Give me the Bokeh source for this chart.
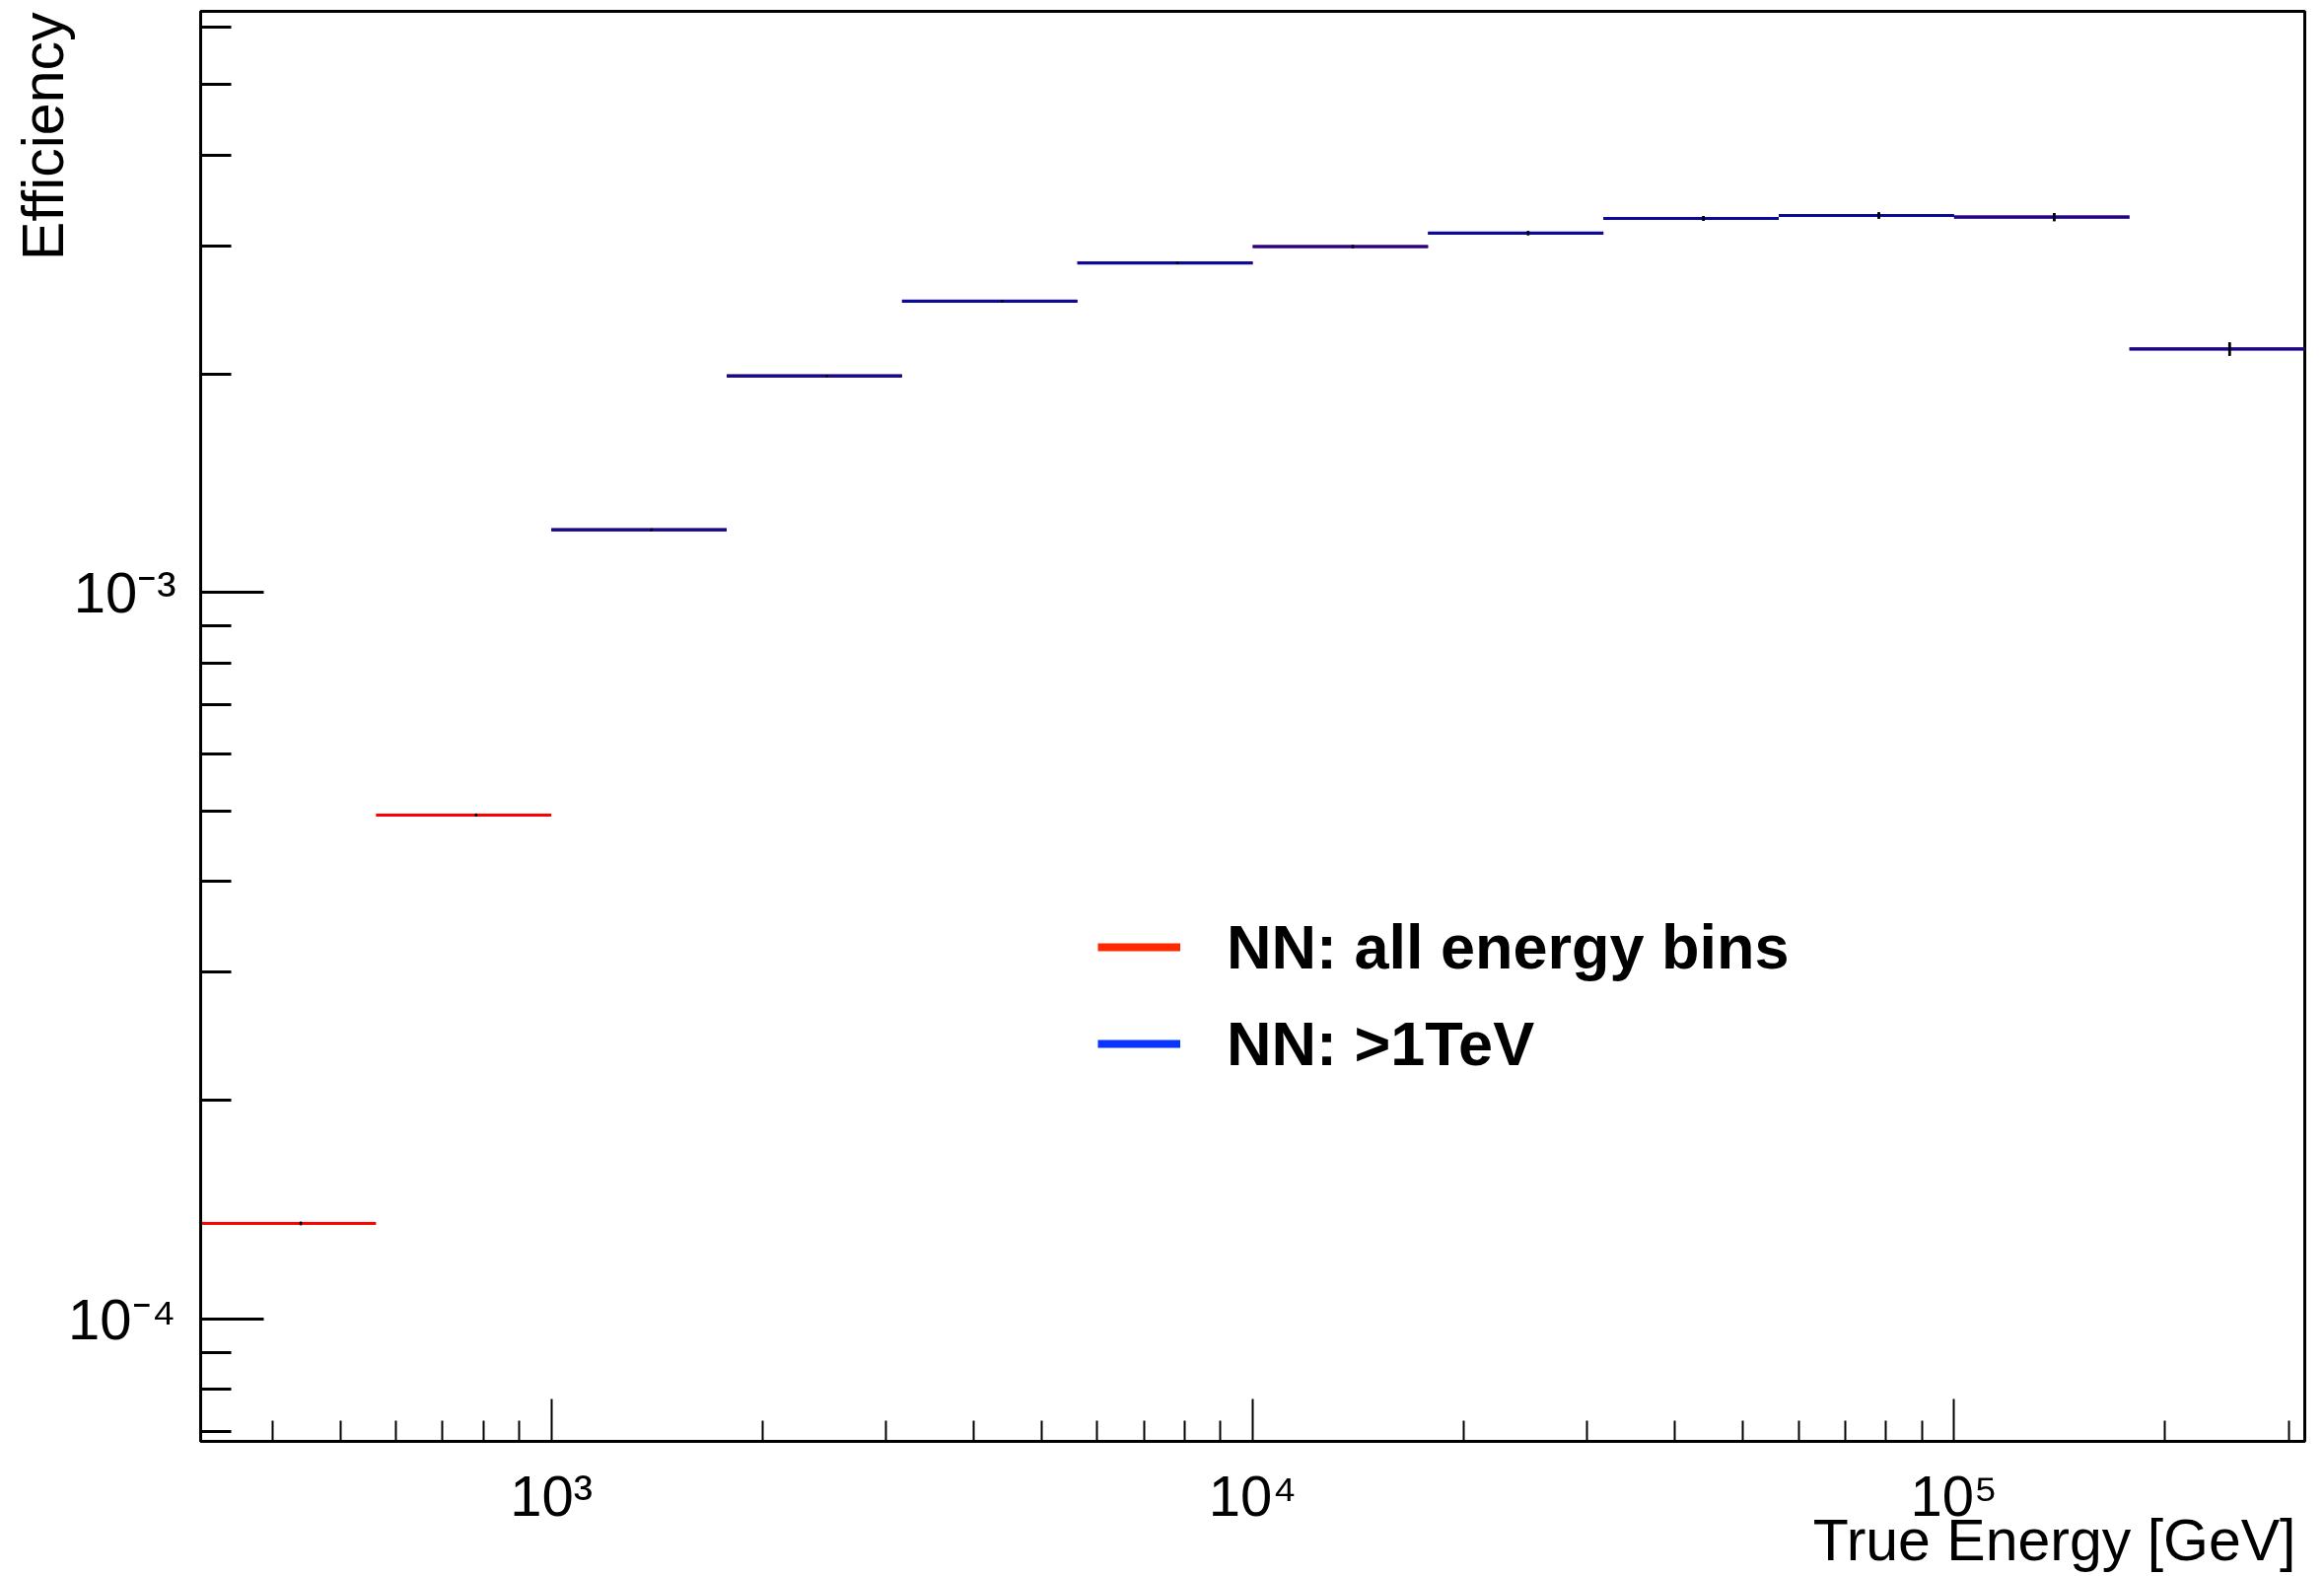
import math
from bokeh.plotting import figure
from bokeh.models import (Range1d, FixedTicker, CustomJSTickFormatter, Title,
                          Legend, LegendItem, ColumnDataSource)
from bokeh.embed import file_html
from bokeh.resources import INLINE

# ---------------- data ----------------
bin_edges = [316.23, 562.34, 1000.0, 1778.28, 3162.28, 5623.41, 10000.0,
             17782.79, 31622.78, 56234.13, 100000.0, 177827.94, 316227.77]
eff_all = [1.354e-4, 4.94e-4, 1.220e-3, 1.987e-3, 2.518e-3, 2.843e-3,
           2.994e-3, 3.124e-3, 3.273e-3, 3.304e-3, 3.288e-3, 2.164e-3]
eff_all_err = [0.8e-6, 2.5e-6, 5e-6, 7e-6, 9e-6, 1.2e-5,
               1.5e-5, 2.0e-5, 2.6e-5, 3.3e-5, 4.3e-5, 4.6e-5]
# ">1TeV" network: only filled from the third bin on
first_bin_1tev = 2
eff_1tev = [1.220e-3, 1.987e-3, 2.518e-3, 2.843e-3,
            2.994e-3, 3.124e-3, 3.273e-3, 3.304e-3, 3.288e-3, 2.164e-3]
eff_1tev_err = [5e-6, 7e-6, 9e-6, 1.2e-5,
                1.5e-5, 2.0e-5, 2.6e-5, 3.3e-5, 4.3e-5, 4.6e-5]

x_major_ticks = [1e3, 1e4, 1e5]
x_tick_labels = ["10\u00b3", "10\u2074", "10\u2075"]
x_minor_ticks = [400, 500, 600, 700, 800, 900,
                 2000, 3000, 4000, 5000, 6000, 7000, 8000, 9000,
                 20000, 30000, 40000, 50000, 60000, 70000, 80000, 90000,
                 200000, 300000]
y_major_ticks = [1e-4, 1e-3]
y_tick_labels = ["10\u207b\u2074", "10\u207b\u00b3"]
y_minor_ticks = [7e-5, 8e-5, 9e-5,
                 2e-4, 3e-4, 4e-4, 5e-4, 6e-4, 7e-4, 8e-4, 9e-4,
                 2e-3, 3e-3, 4e-3, 5e-3, 6e-3]

x_limits = (316.23, 316227.77)
y_limits = (6.785e-5, 6.31e-3)

label_all = "NN: all energy bins"
label_1tev = "NN: >1TeV"
x_title = "True Energy [GeV]"
y_title = "Efficiency"

FONT = "Liberation Sans"

# ---------------- figure ----------------
W, H = 2357, 1598
ML, MR, MT, MB = 203, 20, 11, 137
p = figure(width=W, height=H, x_axis_type="log", y_axis_type="log",
           output_backend="svg", toolbar_location=None,
           x_range=Range1d(*x_limits), y_range=Range1d(*y_limits),
           min_border_left=ML, min_border_right=MR,
           min_border_top=MT, min_border_bottom=MB)
p.background_fill_color = "white"
p.border_fill_color = "white"
p.outline_line_color = "black"
p.outline_line_width = 3
p.xgrid.visible = False
p.ygrid.visible = False

fmt_code = """
for (let i = 0; i < vals.length; i++) {
  if (Math.abs(tick - vals[i]) <= 1e-6 * vals[i]) return labs[i];
}
return "";
"""
p.xaxis.ticker = FixedTicker(ticks=x_major_ticks, minor_ticks=x_minor_ticks)
p.yaxis.ticker = FixedTicker(ticks=y_major_ticks, minor_ticks=y_minor_ticks)
p.xaxis.formatter = CustomJSTickFormatter(args=dict(vals=x_major_ticks, labs=x_tick_labels), code=fmt_code)
p.yaxis.formatter = CustomJSTickFormatter(args=dict(vals=y_major_ticks, labs=y_tick_labels), code=fmt_code)

for ax in (p.xaxis[0], p.yaxis[0]):
    ax.axis_line_color = "black"
    ax.axis_line_width = 3
    ax.major_tick_line_color = "black"
    ax.minor_tick_line_color = "black"
    ax.major_tick_out = 0
    ax.minor_tick_out = 0
    ax.major_label_text_font = FONT
    ax.major_label_text_font_size = "58px"
    ax.major_label_text_color = "black"

p.xaxis.major_tick_in = 43
p.xaxis.minor_tick_in = 21
p.xaxis.major_tick_line_width = 2
p.xaxis.minor_tick_line_width = 2
p.xaxis.major_label_standoff = 22

p.yaxis.major_tick_in = 64
p.yaxis.minor_tick_in = 31
p.yaxis.major_tick_line_width = 3
p.yaxis.minor_tick_line_width = 3
p.yaxis.major_label_standoff = 25

# axis titles, ROOT style (at the far end of each axis)
p.add_layout(Title(text=x_title, align="right", vertical_align="top",
                   offset=9, standoff=-46, text_font=FONT,
                   text_font_size="59px", text_font_style="normal",
                   text_color="black"), "below")
p.add_layout(Title(text=y_title, align="right", vertical_align="bottom",
                   offset=1, standoff=-21, text_font=FONT,
                   text_font_size="59px", text_font_style="normal",
                   text_color="black"), "left")

# ---------------- histograms ----------------
n = len(eff_all)
src_all = ColumnDataSource(dict(
    x0=bin_edges[:-1], x1=bin_edges[1:], y=eff_all,
    xc=[(bin_edges[i] + bin_edges[i + 1]) / 2 for i in range(n)],
    lo=[eff_all[i] - eff_all_err[i] for i in range(n)],
    hi=[eff_all[i] + eff_all_err[i] for i in range(n)]))
e1 = bin_edges[first_bin_1tev:]
m = len(eff_1tev)
src_1tev = ColumnDataSource(dict(
    x0=e1[:-1], x1=e1[1:], y=eff_1tev,
    xc=[(e1[i] + e1[i + 1]) / 2 for i in range(m)],
    lo=[eff_1tev[i] - eff_1tev_err[i] for i in range(m)],
    hi=[eff_1tev[i] + eff_1tev_err[i] for i in range(m)]))

p.segment(x0="x0", x1="x1", y0="y", y1="y", source=src_all,
          line_color="#ff0000", line_width=3)
p.segment(x0="xc", x1="xc", y0="lo", y1="hi", source=src_all,
          line_color="black", line_width=2.5)
p.segment(x0="x0", x1="x1", y0="y", y1="y", source=src_1tev,
          line_color="#0c0a96", line_width=3.2)
p.segment(x0="xc", x1="xc", y0="lo", y1="hi", source=src_1tev,
          line_color="black", line_width=2.5)

# legend-only proxies (legend lines are drawn thicker and brighter)
nan = float("nan")
leg_red = p.line(x=[nan, nan], y=[nan, nan], line_color="#ff2a00", line_width=8)
leg_blue = p.line(x=[nan, nan], y=[nan, nan], line_color="#0a34ff", line_width=8)
legend = Legend(items=[LegendItem(label=label_all, renderers=[leg_red]),
                       LegendItem(label=label_1tev, renderers=[leg_blue])],
                location=(910, 367), orientation="vertical",
                glyph_width=84, glyph_height=72, label_height=72,
                label_standoff=47, spacing=26, padding=0, margin=0,
                label_text_font=FONT, label_text_font_style="bold",
                label_text_font_size="63px", label_text_color="black",
                border_line_alpha=0, background_fill_alpha=0)
p.add_layout(legend)

open("out.html", "w").write(file_html(p, INLINE))
